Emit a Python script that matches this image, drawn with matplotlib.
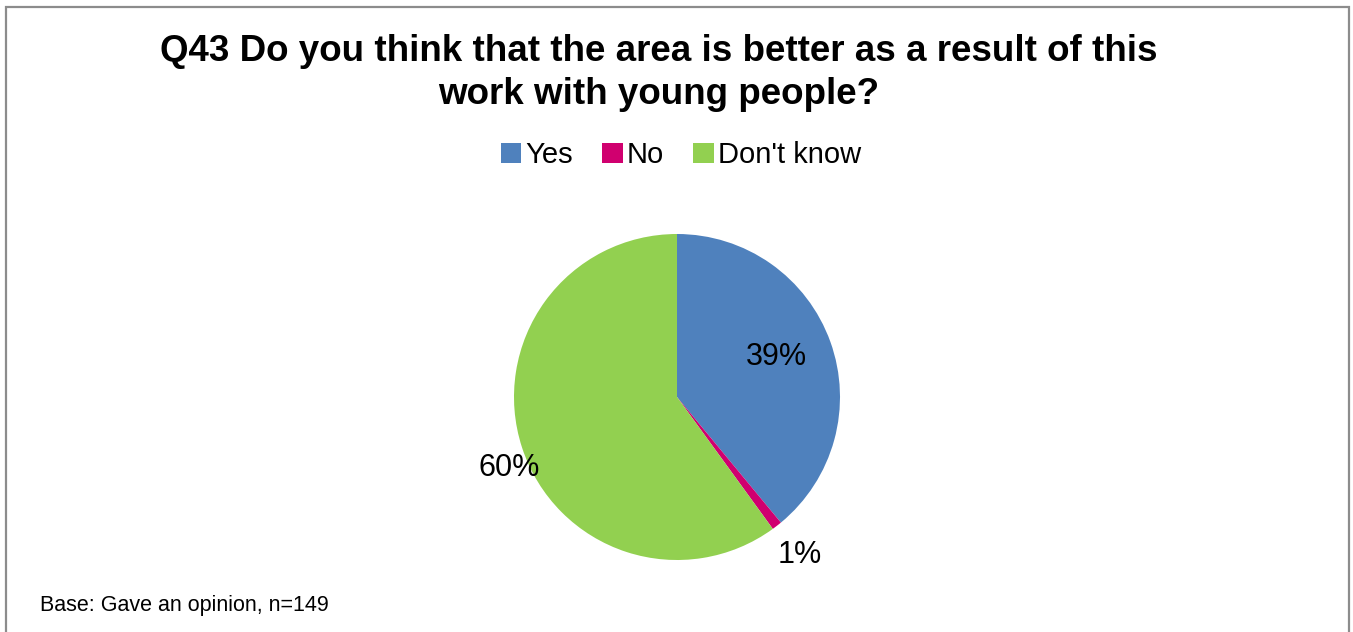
import matplotlib
matplotlib.use("Agg")
import matplotlib.pyplot as plt
import matplotlib.patches as patches
import numpy as np

plt.rcParams['font.family'] = ['Liberation Sans', 'DejaVu Sans']

# survey answers (percent of respondents)
answers = ["Yes", "No", "Don't know"]
shares = [39, 1, 60]
colours = ["#4F81BD", "#D0006F", "#92D050"]
# how far out each percent label sits (fraction of radius) and its angular nudge
label_dist = [0.66, 1.23, 1.12]
label_turn = [2, 0, 5]

title = "Q43 Do you think that the area is better as a result of this\nwork with young people?"
base_note = "Base: Gave an opinion, n=149"

fig = plt.figure(figsize=(13.53, 6.32), dpi=100)

# grey frame round the chart area (bottom edge runs off the canvas)
frame = patches.Rectangle((6 / 1353, -0.05), 1343 / 1353, 1 - 7 / 632 + 0.05,
                          transform=fig.transFigure, fill=False,
                          edgecolor="#8c8c8c", linewidth=1.6)
fig.patches.append(frame)

# pie axes: centre (677, 397), radius ~163 px
r_px = 163
cx, cy = 677, 632 - 397
ax = fig.add_axes([(cx - r_px) / 1353, (cy - r_px) / 632, 2 * r_px / 1353, 2 * r_px / 632])
wedges, _ = ax.pie(shares, colors=colours, startangle=90, counterclock=False,
                   radius=1.0, wedgeprops=dict(linewidth=0))
ax.set_xlim(-1, 1)
ax.set_ylim(-1, 1)
ax.set_aspect("equal")
ax.axis("off")

for w, val, d, t in zip(wedges, shares, label_dist, label_turn):
    mid = np.deg2rad((w.theta1 + w.theta2) / 2 + t)
    ax.text(d * np.cos(mid), d * np.sin(mid), f"{val}%", ha="center", va="center",
            fontsize=22, color="black", clip_on=False)

fig.text(659 / 1353, 1 - 73 / 632, title, ha="center", va="center",
         fontsize=26.5, fontweight="bold", linespacing=1.3)

handles = [patches.Patch(facecolor=c, edgecolor="none") for c in colours]
fig.legend(handles, answers, loc="center", bbox_to_anchor=(681 / 1353, 1 - 155 / 632),
           ncol=3, frameon=False, fontsize=21, handlelength=0.7, handleheight=0.7,
           handletextpad=0.15, columnspacing=1.0)

fig.text(40 / 1353, 1 - 606 / 632, base_note, ha="left", va="center", fontsize=15.5)

fig.savefig("out.png", dpi=100, facecolor="white")
